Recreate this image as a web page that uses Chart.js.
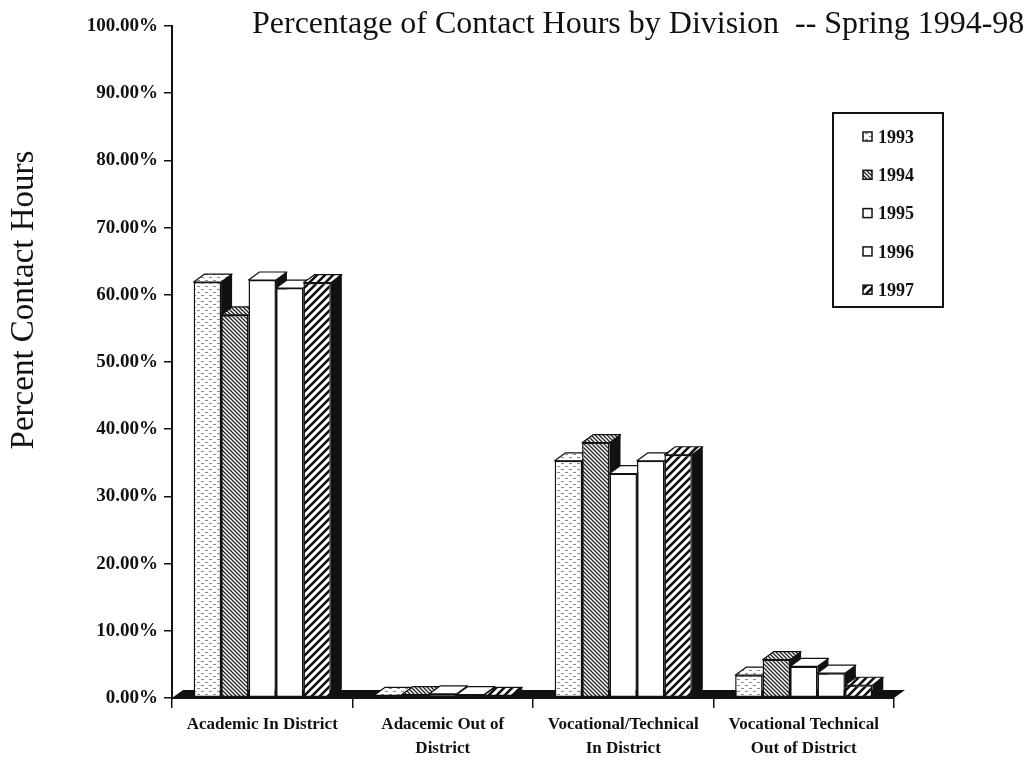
<!DOCTYPE html>
<html lang="en">
<head>
<meta charset="UTF-8">
<title>Percentage of Contact Hours by Division</title>
<script src="https://cdn.jsdelivr.net/npm/chart.js"></script>
<style>
  body { margin: 0; background: #fff; }
  canvas { display: block; }
</style>
</head>
<body>
<canvas id="hoursChart" width="1028" height="761"></canvas>
<script>
const divisions = ['Academic In District', ['Adacemic Out of', 'District'], ['Vocational/Technical', 'In District'], ['Vocational Technical', 'Out of District']];
const years = ['1993', '1994', '1995', '1996', '1997'];
const pct1993 = [61.9, 0.4, 35.3, 3.4];
const pct1994 = [57.0, 0.5, 38.0, 5.7];
const pct1995 = [62.2, 0.6, 33.4, 4.7];
const pct1996 = [61.0, 0.5, 35.3, 3.7];
const pct1997 = [61.8, 0.4, 36.2, 1.9];
const yTicks = [0, 10, 20, 30, 40, 50, 60, 70, 80, 90, 100];

const ink = '#111';
const serif = "'Liberation Serif', 'Times New Roman', serif";
const depth = { x: 11, y: 8 };   // 3D offset of the bar tops / sides
const canvas = document.getElementById('hoursChart');
const ctx = canvas.getContext('2d');

// small repeating tiles for the black & white fills
function tile(w, h, paint) {
    const c = document.createElement('canvas');
    c.width = w;
    c.height = h;
    const g = c.getContext('2d');
    g.fillStyle = '#fff';
    g.fillRect(0, 0, w, h);
    paint(g);
    return ctx.createPattern(c, 'repeat');
}

const fills = [
    // light stipple
    tile(8, 6, g => {
        g.fillStyle = '#8a8a8a';
        g.fillRect(1, 1, 3, 1);
        g.fillRect(5, 4, 3, 1);
    }),
    // fine dark hatch
    tile(4, 4, g => {
        g.strokeStyle = '#222';
        g.lineWidth = 1.3;
        g.beginPath();
        g.moveTo(-1, -1); g.lineTo(5, 5);
        g.moveTo(3, -1); g.lineTo(5, 1);
        g.moveTo(-1, 3); g.lineTo(1, 5);
        g.stroke();
    }),
    '#fff',
    '#fff',
    // wide hatch
    tile(8, 8, g => {
        g.strokeStyle = ink;
        g.lineWidth = 2.6;
        g.beginPath();
        g.moveTo(-1, 9); g.lineTo(9, -1);
        g.moveTo(-5, 5); g.lineTo(5, -5);
        g.moveTo(3, 13); g.lineTo(13, 3);
        g.stroke();
    })
];

// floor slab plus the top and side faces of every bar, left to right
const extrude = {
    id: 'extrude',
    beforeDatasetsDraw(chart) {
        const { ctx, scales: { x, y } } = chart;
        const base = y.getPixelForValue(0);
        ctx.save();
        ctx.fillStyle = ink;
        ctx.beginPath();
        ctx.moveTo(x.left, base);
        ctx.lineTo(x.right, base);
        ctx.lineTo(x.right + depth.x, base - depth.y);
        ctx.lineTo(x.left + depth.x, base - depth.y);
        ctx.closePath();
        ctx.fill();

        ctx.lineWidth = 1.2;
        ctx.strokeStyle = ink;
        ctx.lineJoin = 'round';
        chart.data.labels.forEach((_, j) => {
            chart.data.datasets.forEach((ds, i) => {
                const bar = chart.getDatasetMeta(i).data[j];
                const p = bar.getProps(['x', 'y', 'base', 'width'], true);
                const l = p.x - p.width / 2, r = p.x + p.width / 2;
                const top = p.y, bottom = p.base;

                ctx.fillStyle = ink;
                ctx.beginPath();
                ctx.moveTo(r, top);
                ctx.lineTo(r + depth.x, top - depth.y);
                ctx.lineTo(r + depth.x, bottom - depth.y);
                ctx.lineTo(r, bottom);
                ctx.closePath();
                ctx.fill();

                ctx.fillStyle = fills[i];
                ctx.beginPath();
                ctx.moveTo(l, top);
                ctx.lineTo(l + depth.x, top - depth.y);
                ctx.lineTo(r + depth.x, top - depth.y);
                ctx.lineTo(r, top);
                ctx.closePath();
                ctx.fill();
                ctx.stroke();
            });
        });
        ctx.restore();
    }
};

// title, rotated axis title and the boxed legend
const annotate = {
    id: 'annotate',
    afterDraw(chart) {
        const { ctx } = chart;
        ctx.save();
        ctx.fillStyle = ink;
        ctx.font = `32px ${serif}`;
        ctx.textBaseline = 'alphabetic';
        ctx.fillText('Percentage of Contact Hours by Division  -- Spring 1994-98', 252, 33);

        ctx.save();
        ctx.translate(24, 300);
        ctx.rotate(-Math.PI / 2);
        ctx.font = `33px ${serif}`;
        ctx.textAlign = 'center';
        ctx.textBaseline = 'middle';
        ctx.fillText('Percent Contact Hours', 0, 0);
        ctx.restore();

        ctx.strokeStyle = ink;
        ctx.lineWidth = 2;
        ctx.strokeRect(833, 113, 110, 194);
        ctx.font = `bold 18px ${serif}`;
        ctx.textBaseline = 'middle';
        chart.data.datasets.forEach((ds, i) => {
            const rowY = 137 + i * 38.3;
            ctx.fillStyle = fills[i];
            ctx.fillRect(863, rowY - 5, 9, 9);
            ctx.lineWidth = 1.5;
            ctx.strokeRect(863, rowY - 5, 9, 9);
            ctx.fillStyle = ink;
            ctx.fillText(ds.label, 878, rowY + 1);
        });
        ctx.restore();
    }
};

const series = [pct1993, pct1994, pct1995, pct1996, pct1997];

new Chart(ctx, {
    type: 'bar',
    data: {
        labels: divisions,
        datasets: series.map((values, i) => ({
            label: years[i],
            data: values,
            backgroundColor: fills[i],
            borderColor: ink,
            borderWidth: 1.5,
            borderSkipped: false
        }))
    },
    options: {
        responsive: false,
        animation: false,
        devicePixelRatio: 1,
        layout: { padding: { top: 26, right: 134, bottom: 0, left: 0 } },
        plugins: {
            legend: { display: false },
            title: { display: false },
            tooltip: { enabled: false }
        },
        datasets: { bar: { categoryPercentage: 0.76, barPercentage: 1 } },
        scales: {
            x: {
                afterFit: s => { s.height = 63; },
                grid: { offset: true, drawOnChartArea: false, tickLength: 10, color: ink, lineWidth: 1.5 },
                border: { color: ink, width: 2 },
                ticks: {
                    color: ink,
                    font: { family: serif, size: 17, weight: 'bold', lineHeight: 1.45 },
                    padding: 4,
                    maxRotation: 0,
                    autoSkip: false
                }
            },
            y: {
                min: 0,
                max: 100,
                afterFit: s => { s.width = 172; },
                afterBuildTicks: s => { s.ticks = yTicks.map(v => ({ value: v })); },
                grid: { drawOnChartArea: false, tickLength: 8, color: ink, lineWidth: 1.5 },
                border: { color: ink, width: 2 },
                ticks: {
                    color: ink,
                    font: { family: serif, size: 19, weight: 'bold' },
                    padding: 6,
                    callback: v => v.toFixed(2) + '%'
                }
            }
        }
    },
    plugins: [extrude, annotate]
});
</script>
</body>
</html>
